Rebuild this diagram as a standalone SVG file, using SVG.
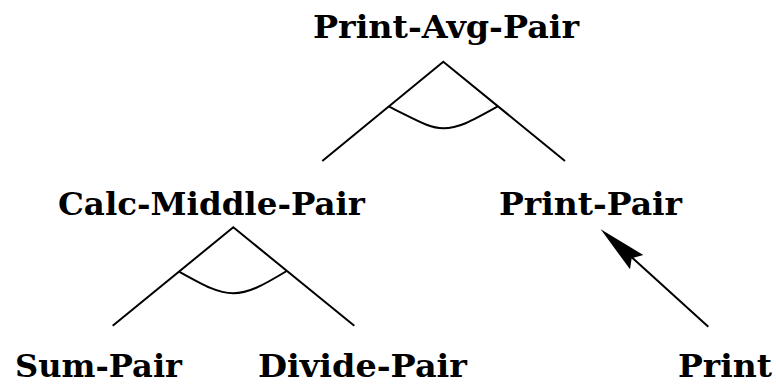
<svg xmlns="http://www.w3.org/2000/svg" width="776" height="385" viewBox="0 0 776 385">
<style>
.lbl{font-family:"DejaVu Serif","Liberation Serif",serif;font-weight:bold;font-size:32px;fill:#000}
.ln{stroke:#000;stroke-width:2;fill:none}
.head{fill:#000;stroke:none}
</style>
<rect width="776" height="385" fill="#fff"/>
<g id="print-avg-pair"><text class="lbl" x="313" y="38" textLength="266" lengthAdjust="spacingAndGlyphs">Print-Avg-Pair</text></g>
<g id="calc-middle-pair"><text class="lbl" x="58" y="215" textLength="307" lengthAdjust="spacingAndGlyphs">Calc-Middle-Pair</text></g>
<g id="print-pair"><text class="lbl" x="499" y="215" textLength="183" lengthAdjust="spacingAndGlyphs">Print-Pair</text></g>
<g id="sum-pair"><text class="lbl" x="15" y="377" textLength="167" lengthAdjust="spacingAndGlyphs">Sum-Pair</text></g>
<g id="divide-pair"><text class="lbl" x="258" y="377" textLength="209" lengthAdjust="spacingAndGlyphs">Divide-Pair</text></g>
<g id="print"><text class="lbl" x="678" y="377" textLength="94" lengthAdjust="spacingAndGlyphs">Print</text></g>
<g id="connectors">
<path class="ln" d="M322.3,161 L443.3,61.7 L565,161"/>
<path class="ln" d="M389,106.7 C420,122 430,128.3 443.3,128.3 C458,128.3 470,122 497.3,106.7"/>
<path class="ln" d="M112.7,325.7 L233.3,227.3 L354.3,325.7"/>
<path class="ln" d="M179.3,271.7 C205,286 218,293.3 233.3,293.3 C248,293.3 262,286 286.7,271"/>
<path class="ln" d="M708.3,326.7 L632,257.5"/>
<path class="head" d="M600.7,229.3 L643.3,255 L631.7,258.3 L630,269.3 Z"/>
</g>
</svg>
